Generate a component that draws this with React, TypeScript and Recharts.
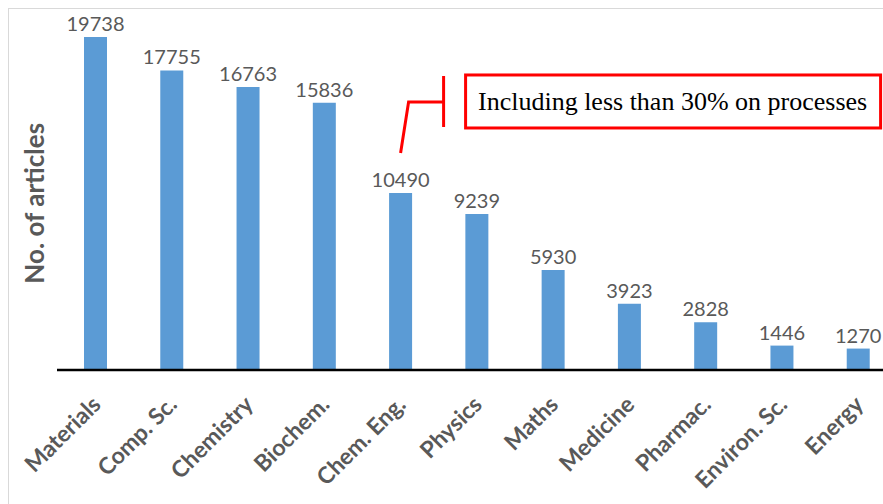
import React from 'react';
import { BarChart, Bar, XAxis, YAxis, LabelList } from 'recharts';

const categories = ['Materials', 'Comp. Sc.', 'Chemistry', 'Biochem.', 'Chem. Eng.', 'Physics', 'Maths', 'Medicine', 'Pharmac.', 'Environ. Sc.', 'Energy'];
const articles = [19738, 17755, 16763, 15836, 10490, 9239, 5930, 3923, 2828, 1446, 1270];
const annotationCategory = 'Chem. Eng.';
const annotationText = 'Including less than 30% on processes';
const yAxisTitle = 'No. of articles';

const data = categories.map((c, i) => ({ name: c, value: articles[i] }));

const GRAY = '#595959';
const RED = '#FF0000';

const XTick = (props: any) => {
  const { x, y, payload } = props;
  const ax = x + 7;
  const ay = y + 28;
  return (
    <text
      x={ax}
      y={ay}
      transform={`rotate(-45, ${ax}, ${ay})`}
      textAnchor="end"
      fill={GRAY}
      fontFamily="Lato, 'Open Sans', sans-serif"
      fontWeight={700}
      fontSize={23}
    >
      {payload.value}
    </text>
  );
};

const ValueLabel = (props: any) => {
  const { x, y, width, value, index } = props;
  const cx = x + width / 2;
  const isAnnot = categories[index] === annotationCategory;
  return (
    <g>
      <text x={cx} y={y - 6} textAnchor="middle" fill={GRAY} fontFamily="Lato, 'Open Sans', sans-serif" fontSize={20}>
        {value}
      </text>
      {isAnnot && (
        <g>
          <polyline
            points={`${cx},${y - 40} ${cx + 8},${y - 91} ${cx + 43},${y - 91}`}
            fill="none"
            stroke={RED}
            strokeWidth={3}
          />
          <line x1={cx + 43} y1={y - 117} x2={cx + 43} y2={y - 66} stroke={RED} strokeWidth={3} />
          <rect x={cx + 65} y={y - 118} width={415} height={53} fill="#fff" stroke={RED} strokeWidth={3} />
          <text
            x={cx + 272}
            y={y - 91}
            dominantBaseline="central"
            textAnchor="middle"
            fill="#000"
            fontFamily="'Liberation Serif', 'Times New Roman', serif"
            fontSize={26}
          >
            {annotationText}
          </text>
        </g>
      )}
    </g>
  );
};

const YTitle = (props: any) => {
  const { viewBox } = props;
  const cx = 25;
  const cy = viewBox.y + viewBox.height / 2 + 2;
  return (
    <text
      x={cx}
      y={cy}
      transform={`rotate(-90, ${cx}, ${cy})`}
      textAnchor="middle"
      dominantBaseline="central"
      fill={GRAY}
      fontFamily="Lato, 'Open Sans', sans-serif"
      fontWeight={700}
      fontSize={26}
    >
      {yAxisTitle}
    </text>
  );
};

export default function App() {
  return (
    <div
      style={{
        position: 'fixed',
        left: 8,
        top: 8,
        width: 900,
        height: 495,
        border: '1px solid #d9d9d9',
        background: '#fff',
      }}
    >
      <BarChart width={900} height={495} data={data} margin={{ top: 23.5, right: 13, bottom: 0, left: 0 }}>
        <YAxis
          width={48}
          domain={[0, 20000]}
          axisLine={false}
          tickLine={false}
          tick={false}
          label={{ content: YTitle }}
        />
        <XAxis
          dataKey="name"
          interval={0}
          axisLine={{ stroke: '#000', strokeWidth: 2.5 }}
          tickLine={false}
          tick={<XTick />}
          height={134}
        />
        <Bar dataKey="value" fill="#5B9BD5" barSize={23} isAnimationActive={false}>
          <LabelList dataKey="value" content={ValueLabel} />
        </Bar>
      </BarChart>
    </div>
  );
}
